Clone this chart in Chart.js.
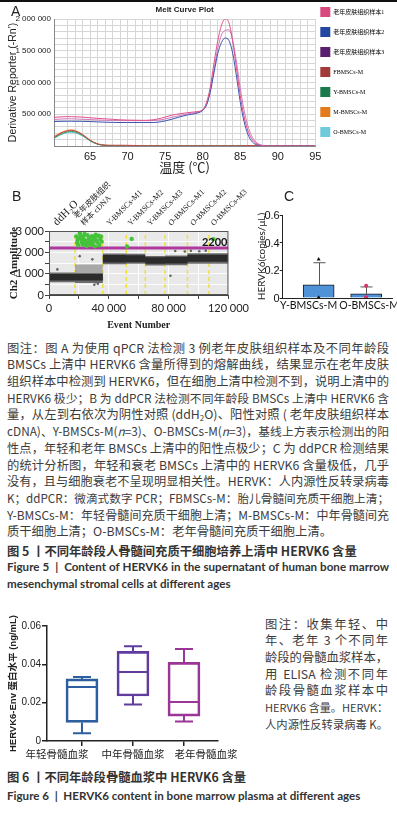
<!DOCTYPE html>
<html lang="zh"><head><meta charset="utf-8">
<script src="https://cdn.jsdelivr.net/npm/chart.js@4.4.1/dist/chart.umd.min.js"></script>
<style>
html,body{margin:0;padding:0;background:#fff;}
body{width:397px;height:821px;position:relative;overflow:hidden;font-family:'Noto Sans CJK SC',sans-serif;}
canvas{position:absolute;display:block;}
.lbl{position:absolute;font-family:'Liberation Sans',sans-serif;font-size:14px;color:#222;line-height:1;}
.cap{position:absolute;font-family:'Noto Sans CJK SC',sans-serif;font-size:12.3px;color:#3c3c3c;line-height:16.7px;}
.cap .j{text-align:justify;text-align-last:justify;}
sub{font-size:8px;line-height:0;vertical-align:-2px;}
.t5{position:absolute;left:7px;font-family:'Noto Sans CJK SC',sans-serif;font-weight:700;font-size:12.3px;color:#333;line-height:17px;white-space:nowrap;}
.en{position:absolute;left:7px;font-family:'Lato',sans-serif;font-weight:700;font-size:11.6px;color:#333;line-height:17px;}
.ytk{position:absolute;width:30px;text-align:right;font-family:'Liberation Sans',sans-serif;font-size:11px;line-height:12px;color:#111;z-index:5;}
</style></head>
<body>
<div style="position:absolute;left:0;top:0;width:397px;height:2px;background:#111"></div>
<canvas id="cA" width="397" height="180" style="left:0;top:0;width:397px;height:180px"></canvas>
<canvas id="cB" width="252" height="152" style="left:0;top:180px;width:252px;height:152px"></canvas>
<canvas id="cC" width="145" height="140" style="left:252px;top:180px;width:145px;height:140px"></canvas>
<canvas id="cD" width="262" height="150" style="left:0;top:612px;width:262px;height:150px"></canvas>
<div class="lbl" style="left:11px;top:4px">A</div>
<div class="lbl" style="left:12px;top:189px">B</div>
<div class="lbl" style="left:284px;top:189px">C</div>
<div id="cTickBox"></div>

<div class="cap" style="left:7px;top:339.6px;width:382px">
<div class="j">图注：图 A 为使用 qPCR 法检测 3 例老年皮肤组织样本及不同年龄段</div>
<div class="j">BMSCs 上清中 HERVK6 含量所得到的熔解曲线，结果显示在老年皮肤</div>
<div class="j">组织样本中检测到 HERVK6，但在细胞上清中检测不到，说明上清中的</div>
<div class="j">HERVK6 极少；B 为 ddPCR 法检测不同年龄段 BMSCs 上清中 HERVK6 含</div>
<div class="j">量，从左到右依次为阴性对照 (ddH<sub>2</sub>O)、阳性对照 ( 老年皮肤组织样本</div>
<div class="j">cDNA)、Y-BMSCs-M(<i>n</i>=3)、O-BMSCs-M(<i>n</i>=3)，基线上方表示检测出的阳</div>
<div class="j">性点，年轻和老年 BMSCs 上清中的阳性点极少；C 为 ddPCR 检测结果</div>
<div class="j">的统计分析图，年轻和衰老 BMSCs 上清中的 HERVK6 含量极低，几乎</div>
<div class="j">没有，且与细胞衰老不呈现明显相关性。HERVK：人内源性反转录病毒</div>
<div class="j">K；ddPCR：微滴式数字 PCR；FBMSCs-M：胎儿骨髓间充质干细胞上清；</div>
<div class="j">Y-BMSCs-M：年轻骨髓间充质干细胞上清；M-BMSCs-M：中年骨髓间充</div>
<div>质干细胞上清；O-BMSCs-M：老年骨髓间充质干细胞上清。</div>
</div>
<div class="t5" style="top:542.5px">图 5 丨不同年龄段人骨髓间充质干细胞培养上清中 HERVK6 含量</div>
<div class="en" style="top:557.5px;width:382px">
<div style="text-align:justify;text-align-last:justify;">Figure 5 &nbsp;| &nbsp;Content of HERVK6 in the supernatant of human bone marrow</div>
<div>mesenchymal stromal cells at different ages</div>
</div>

<div class="cap" style="left:265px;top:615.6px;width:123px">
<div class="j">图注：收集年轻、中</div>
<div class="j">年、老年 3 个不同年</div>
<div class="j">龄段的骨髓血浆样本，</div>
<div class="j">用 ELISA 检测不同年</div>
<div class="j">龄段骨髓血浆样本中</div>
<div class="j">HERVK6 含量。HERVK：</div>
<div class="j">人内源性反转录病毒 K。</div>
</div>
<div class="t5" style="top:768.5px">图 6 丨不同年龄段骨髓血浆中 HERVK6 含量</div>
<div class="en" style="top:786.5px">Figure 6 &nbsp;| &nbsp;HERVK6 content in bone marrow plasma at different ages</div>

<script>
// ---------- Panel A: melt curves ----------
const meltTemps = [60.2,61,62,62.5,63,64,65,66,67,68,69,70,72,73,74,75,76,77,78,79,80,80.5,81,81.5,82,82.5,83,83.5,84,84.5,85,85.5,86,86.5,87,87.5,88,89,90,92,95];
const skin1 = [450000,458000,462000,462000,460000,455000,445000,435000,428000,420000,412000,408000,404000,408000,425000,455000,488000,508000,525000,538000,570000,680000,920000,1300000,1650000,1900000,2000000,1940000,1650000,1230000,800000,470000,250000,120000,50000,18000,6000,2000,1000,0,0];
const skin2 = [385000,388000,390000,390000,390000,388000,385000,380000,375000,372000,370000,370000,370000,370000,375000,395000,425000,460000,490000,510000,560000,640000,840000,1150000,1450000,1630000,1700000,1660000,1460000,1100000,700000,390000,190000,80000,28000,10000,3000,1000,0,0,0];
const skin3 = [418000,424000,428000,428000,426000,421000,416000,410000,405000,402000,400000,400000,400000,400000,405000,425000,455000,480000,505000,525000,565000,660000,870000,1200000,1530000,1750000,1820000,1830000,1660000,1320000,920000,570000,325000,165000,75000,30000,10000,3000,1000,0,0];
const fbmscs = [138000,196000,238000,245000,236000,178000,90000,32000,14000,12000,12000,11000,4000,3000,3000,2000,2000,2000,2000,2000,2000,2000,2000,2000,2000,2000,2000,2000,2000,2000,3000,5000,7000,8000,6000,3000,2000,1000,1000,1000,1000];
const ybmscs = [126000,182000,224000,230000,222000,168000,85000,30000,10000,5000,3000,3000,2000,2000,2000,2000,2000,2000,2000,2000,2000,2000,2000,2000,2000,2000,2000,2000,2000,2000,2000,2000,2000,2000,2000,2000,2000,1000,1000,1000,1000];
const mbmscs = [145000,205000,248000,255000,245000,185000,95000,35000,12000,6000,4000,4000,3000,3000,3000,2000,2000,2000,2000,2000,2000,2000,2000,2000,2000,2000,2000,2000,2000,2000,2000,2000,2000,2000,2000,2000,2000,1000,1000,1000,1000];
const obmscs = [118000,172000,210000,215000,208000,158000,80000,27000,9000,4000,3000,2000,2000,2000,2000,2000,2000,2000,2000,2000,2000,2000,2000,2000,2000,2000,2000,2000,2000,2000,2000,2000,2000,2000,2000,2000,2000,1000,1000,1000,1000];
const meltNames = ['老年皮肤组织样本1','老年皮肤组织样本2','老年皮肤组织样本3','FBMSCs-M','Y-BMSCs-M','M-BMSCs-M','O-BMSCs-M'];
const meltSeries = [skin1, skin2, skin3, fbmscs, ybmscs, mbmscs, obmscs];
const meltLineColors = ['#e0508c','#3b55b0','#cf78b8','#c04848','#2e9a5a','#ea8a4a','#5cc6d8'];
const meltLegendColors = ['#d9477f','#2446a3','#5a1f6e','#a33a3a','#1b7a4c','#e37a1c','#6fcbdc'];

// ---------- Panel B: ddPCR ----------
const wellLabels = [['ddH₂O'],['老年皮肤组织','样本 cDNA'],['Y-BMSCs-M1'],['Y-BMSCs-M2'],['Y-BMSCs-M3'],['O-BMSCs-M1'],['O-BMSCs-M2'],['O-BMSCs-M3']];
const wellStart = [0,17400,36000,51700,64400,77600,92600,107000];
const wellEnd   = [17400,36000,51700,64400,77600,92600,107000,120000];
const bandLow   = [600,560,1440,1460,1380,1400,1470,1470];
const bandHigh  = [1060,1040,1950,1930,1830,1850,1960,1960];
const coreLow   = [680,680,1520,1540,1460,1480,1560,1560];
const coreHigh  = [980,990,1870,1860,1770,1790,1890,1890];
const skinCloud = [1040,1430];
const threshold = 2200;
const posEvents = [20600,18200,21000,23000,25700,28700,30700,33100,34700,19100,22300,24300,26700,27700,29900,31700,34300,19700,22700,25100,28300,30700,33700,18800,21800,24000,26000,27300,29300,32400,35200,20200,23700,31200,26300,52150,55300,109900];
const posAmps   = [2900,2750,2780,2720,2800,2760,2700,2780,2740,2580,2600,2560,2640,2520,2600,2560,2620,2330,2370,2300,2350,2280,2330,2450,2480,2420,2460,2680,2440,2460,2500,2650,2860,2830,2360,2270,2630,2620];
const negEvents = [5600,29000,31300,30300,32700,20500,81200,84400,90800,94900,100500,104800];
const negAmps   = [1200,1670,600,480,530,1820,905,2060,2040,2070,2050,2080];

// ---------- Panel C ----------
const cCats = ['Y-BMSCs-M','O-BMSCs-M'];
const cMeans = [0.095,0.03];
const cErrTop = [0.255,0.08];
const cPointsY = [0.28,0.004,0.0];
const cPointsO = [0.088,0.006,0.002];
const cTicks = [0, 0.2, 0.4, 0.6];

// ---------- Figure 6 box plot ----------
const boxCats = ['年轻骨髓血浆','中年骨髓血浆','老年骨髓血浆'];
const boxMin = [0.0040,0.0190,0.0102];
const boxQ1  = [0.0097,0.0235,0.0130];
const boxMed = [0.0282,0.0360,0.0204];
const boxQ3  = [0.0324,0.0468,0.0410];
const boxMax = [0.0334,0.0494,0.0480];
const boxColors = ['#2d5fa0','#5f3c9e','#9a3698'];

// fit caption lines on one line each
document.querySelectorAll('.cap > div').forEach(el => {
  let fs = parseFloat(getComputedStyle(el).fontSize);
  while (el.offsetHeight > 20 && fs > 8) { fs -= 0.1; el.style.fontSize = fs + 'px'; }
});

const fmtSpace = v => String(Math.round(v)).replace(/\B(?=(\d{3})+(?!\d))/g, ' ');
Chart.defaults.font.family = "'Liberation Sans','Noto Sans CJK SC',sans-serif";
Chart.defaults.color = '#222';
Chart.defaults.animation = false;
Chart.defaults.responsive = false;
Chart.defaults.plugins.tooltip.enabled = false;

// ===== Chart A =====
new Chart(document.getElementById('cA'), {
  type: 'line',
  data: { datasets: meltSeries.map((s, k) => ({
    label: meltNames[k],
    data: meltTemps.map((t, i) => ({x: t, y: s[i]})),
    borderColor: meltLineColors[k], backgroundColor: meltLegendColors[k],
    borderWidth: 1, pointRadius: 0, fill: false, cubicInterpolationMode: 'monotone'
  }))},
  options: {
    layout: {padding: {top: 2, right: 2.7, left: 0, bottom: 0}},
    plugins: {
      title: {display: true, fullSize: false, text: 'Melt Curve Plot', color: '#222',
        font: {family: 'Liberation Sans', size: 8, weight: 'bold'}, padding: {top: 3, bottom: 4.4}},
      legend: {position: 'right', align: 'start',
        labels: {boxWidth: 10, boxHeight: 10, padding: 5, color: '#222',
          font: {family: "'Liberation Serif','Noto Sans CJK SC',serif", size: 6, lineHeight: '15px'},
          generateLabels: ch => ch.data.datasets.map((d, i) => ({text: [d.label], fillStyle: d.backgroundColor, strokeStyle: d.backgroundColor, lineWidth: 0, datasetIndex: i, hidden: false}))}}
    },
    scales: {
      x: {type: 'linear', min: 60.2, max: 95,
        afterFit: s => { s.height = 34; },
        ticks: {stepSize: 1, autoSkip: false, maxRotation: 0, padding: 4, color: '#222',
          font: {family: 'Liberation Sans', size: 11},
          callback: v => (v % 5 === 0 ? String(v) : '')},
        grid: {color: '#d6d6d6', drawTicks: false},
        border: {color: '#888'},
        title: {display: true, text: '温度 (℃)', color: '#222', font: {family: 'Noto Sans CJK SC', size: 13}, padding: {top: 0, bottom: 5.2}}
      },
      y: {min: 0, max: 2000000,
        afterFit: s => { s.width = 54; },
        ticks: {stepSize: 100000, autoSkip: false, padding: 3, color: '#222',
          font: {family: 'Liberation Sans', size: 8},
          callback: v => (v > 0 && v % 500000 === 0 ? fmtSpace(v) : '')},
        grid: {color: '#d6d6d6', drawTicks: false},
        border: {color: '#888'},
        title: {display: true, text: "Derivative Reporter (-Rn')", color: '#222', font: {family: 'Liberation Sans', size: 10.5}, padding: {top: 7, bottom: 0}}
      }
    }
  }
});

// ===== Chart B =====
function bandLine(vals) {
  const pts = [];
  wellStart.forEach((s, i) => { pts.push({x: s, y: vals[i]}); pts.push({x: wellEnd[i], y: vals[i]}); });
  return pts;
}
const bgFrame = {
  id: 'bgFrame',
  beforeDraw(ch, a, o) {
    if (!o.bg) return;
    const {ctx, chartArea: c} = ch;
    ctx.save(); ctx.fillStyle = o.bg; ctx.fillRect(c.left, c.top, c.right - c.left, c.bottom - c.top); ctx.restore();
  },
  afterDraw(ch, a, o) {
    if (!o.frame) return;
    const {ctx, chartArea: c} = ch;
    ctx.save(); ctx.strokeStyle = o.frame; ctx.lineWidth = 1;
    ctx.strokeRect(c.left + 0.5, c.top + 0.5, c.right - c.left - 1, c.bottom - c.top - 1); ctx.restore();
  }
};
const wellText = {
  id: 'wellText',
  afterDraw(ch) {
    const {ctx, chartArea: c, scales: {x, y}} = ch;
    ctx.save();
    ctx.fillStyle = '#222';
    wellLabels.forEach((lines, i) => {
      const cx = x.getPixelForValue((wellStart[i] + wellEnd[i]) / 2) - 5;
      ctx.save();
      ctx.translate(cx, c.top - 5);
      ctx.rotate(-Math.PI / 4);
      ctx.textAlign = 'left'; ctx.textBaseline = 'alphabetic';
      ctx.font = i === 0 ? "11px 'Liberation Serif'" : (i === 1 ? "8px 'Liberation Serif','Noto Sans CJK SC'" : "8px 'Liberation Serif'");
      lines.forEach((ln, k) => ctx.fillText(ln, 0, -(lines.length - 1 - k) * 10));
      ctx.restore();
    });
    ctx.font = "bold 11px 'Lato'";
    ctx.textAlign = 'right'; ctx.textBaseline = 'alphabetic';
    ctx.fillStyle = '#111';
    ctx.fillText(String(threshold), c.right - 1, y.getPixelForValue(threshold) - 2);
    ctx.restore();
  }
};
const boundaries = wellStart.slice(1);
new Chart(document.getElementById('cB'), {
  type: 'line',
  data: { datasets: [
    {data: posEvents.map((e, i) => ({x: e, y: posAmps[i]})), showLine: false, pointRadius: 2.2, backgroundColor: '#44c23a', borderWidth: 0},
    {data: negEvents.map((e, i) => ({x: e, y: negAmps[i]})), showLine: false, pointRadius: 1.3, backgroundColor: '#666', borderWidth: 0},
    {data: [{x: 0, y: threshold}, {x: 120000, y: threshold}], borderColor: '#b0399f', borderWidth: 3, pointRadius: 0},
    {data: bandLine(coreHigh), borderWidth: 0, pointRadius: 0, fill: '+1', backgroundColor: '#2b2b2b'},
    {data: bandLine(coreLow), borderWidth: 0, pointRadius: 0, fill: false},
    {data: [{x: wellStart[1], y: skinCloud[1]}, {x: wellEnd[1], y: skinCloud[1]}], borderWidth: 0, pointRadius: 0, fill: '+1', backgroundColor: 'rgba(140,140,140,0.7)'},
    {data: [{x: wellStart[1], y: skinCloud[0]}, {x: wellEnd[1], y: skinCloud[0]}], borderWidth: 0, pointRadius: 0, fill: false},
    {data: bandLine(bandHigh), borderWidth: 0, pointRadius: 0, fill: '+1', backgroundColor: '#6c6c6c'},
    {data: bandLine(bandLow), borderWidth: 0, pointRadius: 0, fill: false},
    {data: boundaries.flatMap(b => [{x: b, y: 0}, {x: b, y: 3000}, {x: b, y: null}]), borderColor: '#efe23a', borderWidth: 1.5, borderDash: [4, 3], pointRadius: 0, spanGaps: false}
  ]},
  options: {
    layout: {padding: {top: 51, right: 3, left: 0, bottom: 0}},
    plugins: {legend: {display: false}, bgFrame: {bg: '#e9e9e9', frame: '#555'}},
    scales: {
      x: {type: 'linear', min: 0, max: 120000,
        afterFit: s => { s.height = 37; },
        ticks: {stepSize: 20000, autoSkip: false, maxRotation: 0, padding: 3, color: '#222',
          font: {family: 'Lato', size: 11}, callback: v => (v % 40000 === 0 ? fmtSpace(v) : '')},
        grid: {color: 'rgba(255,255,255,0.9)', tickColor: '#444', tickLength: 4},
        border: {color: '#444'},
        title: {display: true, text: 'Event Number', color: '#222', font: {family: 'Liberation Serif', size: 10, weight: 'bold'}, padding: {top: 0, bottom: 1}}
      },
      y: {min: 0, max: 3000,
        afterFit: s => { s.width = 49; },
        ticks: {stepSize: 500, autoSkip: false, padding: 1, color: '#222',
          font: {family: 'Lato', size: 11}, callback: v => (v % 1000 === 0 ? fmtSpace(v) : '')},
        grid: {color: 'rgba(255,255,255,0.9)', tickColor: '#444', tickLength: 4},
        border: {color: '#444'},
        title: {display: true, text: 'Ch2 Amplitude', color: '#222', font: {family: 'Liberation Serif', size: 11, weight: 'bold'}, padding: {top: 7.4, bottom: 0}}
      }
    }
  },
  plugins: [bgFrame, wellText]
});

// ===== Chart C =====
const errBars = {
  id: 'errBars',
  beforeDatasetsDraw(ch) {
    const {ctx, scales: {x, y}} = ch;
    ctx.save(); ctx.strokeStyle = '#555'; ctx.lineWidth = 1;
    cMeans.forEach((m, i) => {
      const px = Math.round(x.getPixelForValue(i)) + 0.5;
      const yt = y.getPixelForValue(cErrTop[i]);
      ctx.beginPath(); ctx.moveTo(px, y.getPixelForValue(m)); ctx.lineTo(px, yt);
      ctx.moveTo(px - 6, yt); ctx.lineTo(px + 6, yt); ctx.stroke();
    });
    ctx.restore();
  },
  afterDraw(ch) {
    const {ctx, chartArea: c, scales: {x}} = ch;
    const shift = [-10, 3];
    ctx.save(); ctx.fillStyle = '#111'; ctx.font = "10.5px 'Lato'";
    ctx.textAlign = 'center'; ctx.textBaseline = 'middle';
    cCats.forEach((t, i) => ctx.fillText(t, x.getPixelForValue(i) + shift[i], c.bottom + 8));
    ctx.restore();
  }
};
const chartC = new Chart(document.getElementById('cC'), {
  type: 'bar',
  data: { datasets: [
    {type: 'line', showLine: false, data: cPointsY.map(v => ({x: 0, y: v})), pointStyle: 'triangle', pointRadius: 2.3, backgroundColor: '#111', borderColor: '#111', borderWidth: 0},
    {type: 'line', showLine: false, data: cPointsO.map(v => ({x: 1, y: v})), pointStyle: 'circle', pointRadius: 2, backgroundColor: '#e0306a', borderColor: '#a01040', borderWidth: 0},
    {type: 'bar', data: cMeans.map((v, i) => ({x: i, y: v})), backgroundColor: '#4f92d8', borderColor: '#1a1a1a', borderWidth: 1, barThickness: 31}
  ]},
  options: {
    layout: {padding: {top: 35, right: 4.3, left: 0, bottom: 0}},
    plugins: {legend: {display: false}},
    scales: {
      x: {type: 'linear', min: -0.757, max: 1.559, offset: false,
        afterBuildTicks: s => { s.ticks = cCats.map((c, i) => ({value: i})); },
        afterFit: s => { s.height = 22; },
        ticks: {display: false},
        grid: {display: false, offset: false},
        border: {color: '#222'}
      },
      y: {min: 0, max: 0.6,
        afterBuildTicks: s => { s.ticks = cTicks.map(v => ({value: v})); },
        afterFit: s => { s.width = 30.7; },
        ticks: {display: false},
        grid: {drawOnChartArea: false, tickLength: 3, tickColor: '#222'},
        border: {color: '#222'},
        title: {display: true, text: 'HERVK6(copies/μL)', color: '#222', font: {family: 'Lato', size: 10}, padding: {top: 4, bottom: 0}}
      }
    }
  },
  plugins: [errBars]
});
// y tick labels of C placed from the chart's own y scale
(function () {
  const ys = chartC.scales.y, area = chartC.chartArea;
  const canvasC = document.getElementById('cC');
  const left0 = parseFloat(canvasC.style.left), top0 = parseFloat(canvasC.style.top);
  const box = document.getElementById('cTickBox');
  cTicks.forEach(v => {
    const d = document.createElement('div');
    d.className = 'ytk';
    d.textContent = v === 0 ? '0' : v.toFixed(1);
    d.style.left = (left0 + area.left - 3 - 30) + 'px';
    d.style.top = (top0 + ys.getPixelForValue(v) - 6) + 'px';
    box.appendChild(d);
  });
})();

// ===== Chart D (Figure 6) =====
const boxExtras = {
  id: 'boxExtras',
  afterDatasetsDraw(ch) {
    const {ctx, chartArea: c, scales: {x, y}} = ch;
    ctx.save(); ctx.lineWidth = 2;
    boxCats.forEach((b, i) => {
      const px = x.getPixelForValue(i);
      ctx.strokeStyle = boxColors[i];
      ctx.beginPath();
      ctx.moveTo(px - 16, y.getPixelForValue(boxMed[i])); ctx.lineTo(px + 16, y.getPixelForValue(boxMed[i]));
      ctx.moveTo(px, y.getPixelForValue(boxQ3[i])); ctx.lineTo(px, y.getPixelForValue(boxMax[i]));
      ctx.moveTo(px - 9, y.getPixelForValue(boxMax[i])); ctx.lineTo(px + 9, y.getPixelForValue(boxMax[i]));
      ctx.moveTo(px, y.getPixelForValue(boxQ1[i])); ctx.lineTo(px, y.getPixelForValue(boxMin[i]));
      ctx.moveTo(px - 9, y.getPixelForValue(boxMin[i])); ctx.lineTo(px + 9, y.getPixelForValue(boxMin[i]));
      ctx.stroke();
    });
    const shift = [-25, 0, 22];
    ctx.fillStyle = '#1a1a1a';
    ctx.font = "10.5px 'Noto Sans CJK SC'";
    ctx.textAlign = 'center'; ctx.textBaseline = 'middle';
    boxCats.forEach((b, i) => ctx.fillText(b, x.getPixelForValue(i) + shift[i], c.bottom + 13));
    ctx.restore();
  }
};
new Chart(document.getElementById('cD'), {
  type: 'bar',
  data: { datasets: [
    {data: boxQ1.map((q, i) => ({x: i, y: [q, boxQ3[i]]})), backgroundColor: 'rgba(255,255,255,0)', borderColor: boxColors, borderWidth: 2, borderSkipped: false, barThickness: 32}
  ]},
  options: {
    layout: {padding: {top: 14, right: 44, left: 0, bottom: 0}},
    plugins: {legend: {display: false}},
    scales: {
      x: {type: 'linear', min: -0.686, max: 2.667, offset: false,
        afterBuildTicks: s => { s.ticks = boxCats.map((c, i) => ({value: i})); },
        afterFit: s => { s.height = 21; },
        ticks: {display: false},
        grid: {drawOnChartArea: false, tickLength: 5, tickColor: '#222', lineWidth: 1.5, offset: false},
        border: {color: '#222', width: 1.5}
      },
      y: {min: 0, max: 0.06,
        afterFit: s => { s.width = 47; },
        ticks: {stepSize: 0.02, padding: 1, color: '#222', font: {family: 'Liberation Sans', size: 10}, callback: v => (v === 0 ? '0' : v.toFixed(2))},
        grid: {drawOnChartArea: false, tickLength: 5, tickColor: '#222', lineWidth: 1.5},
        border: {color: '#222', width: 1.5},
        title: {display: true, text: 'HERVK6-Env 蛋白水平 (ng/mL)', color: '#222', font: {family: "'Liberation Sans','Noto Sans CJK SC'", size: 9.5, weight: 'bold'}, padding: {top: 7.3, bottom: 0}}
      }
    }
  },
  plugins: [boxExtras]
});
</script>
</body></html>
